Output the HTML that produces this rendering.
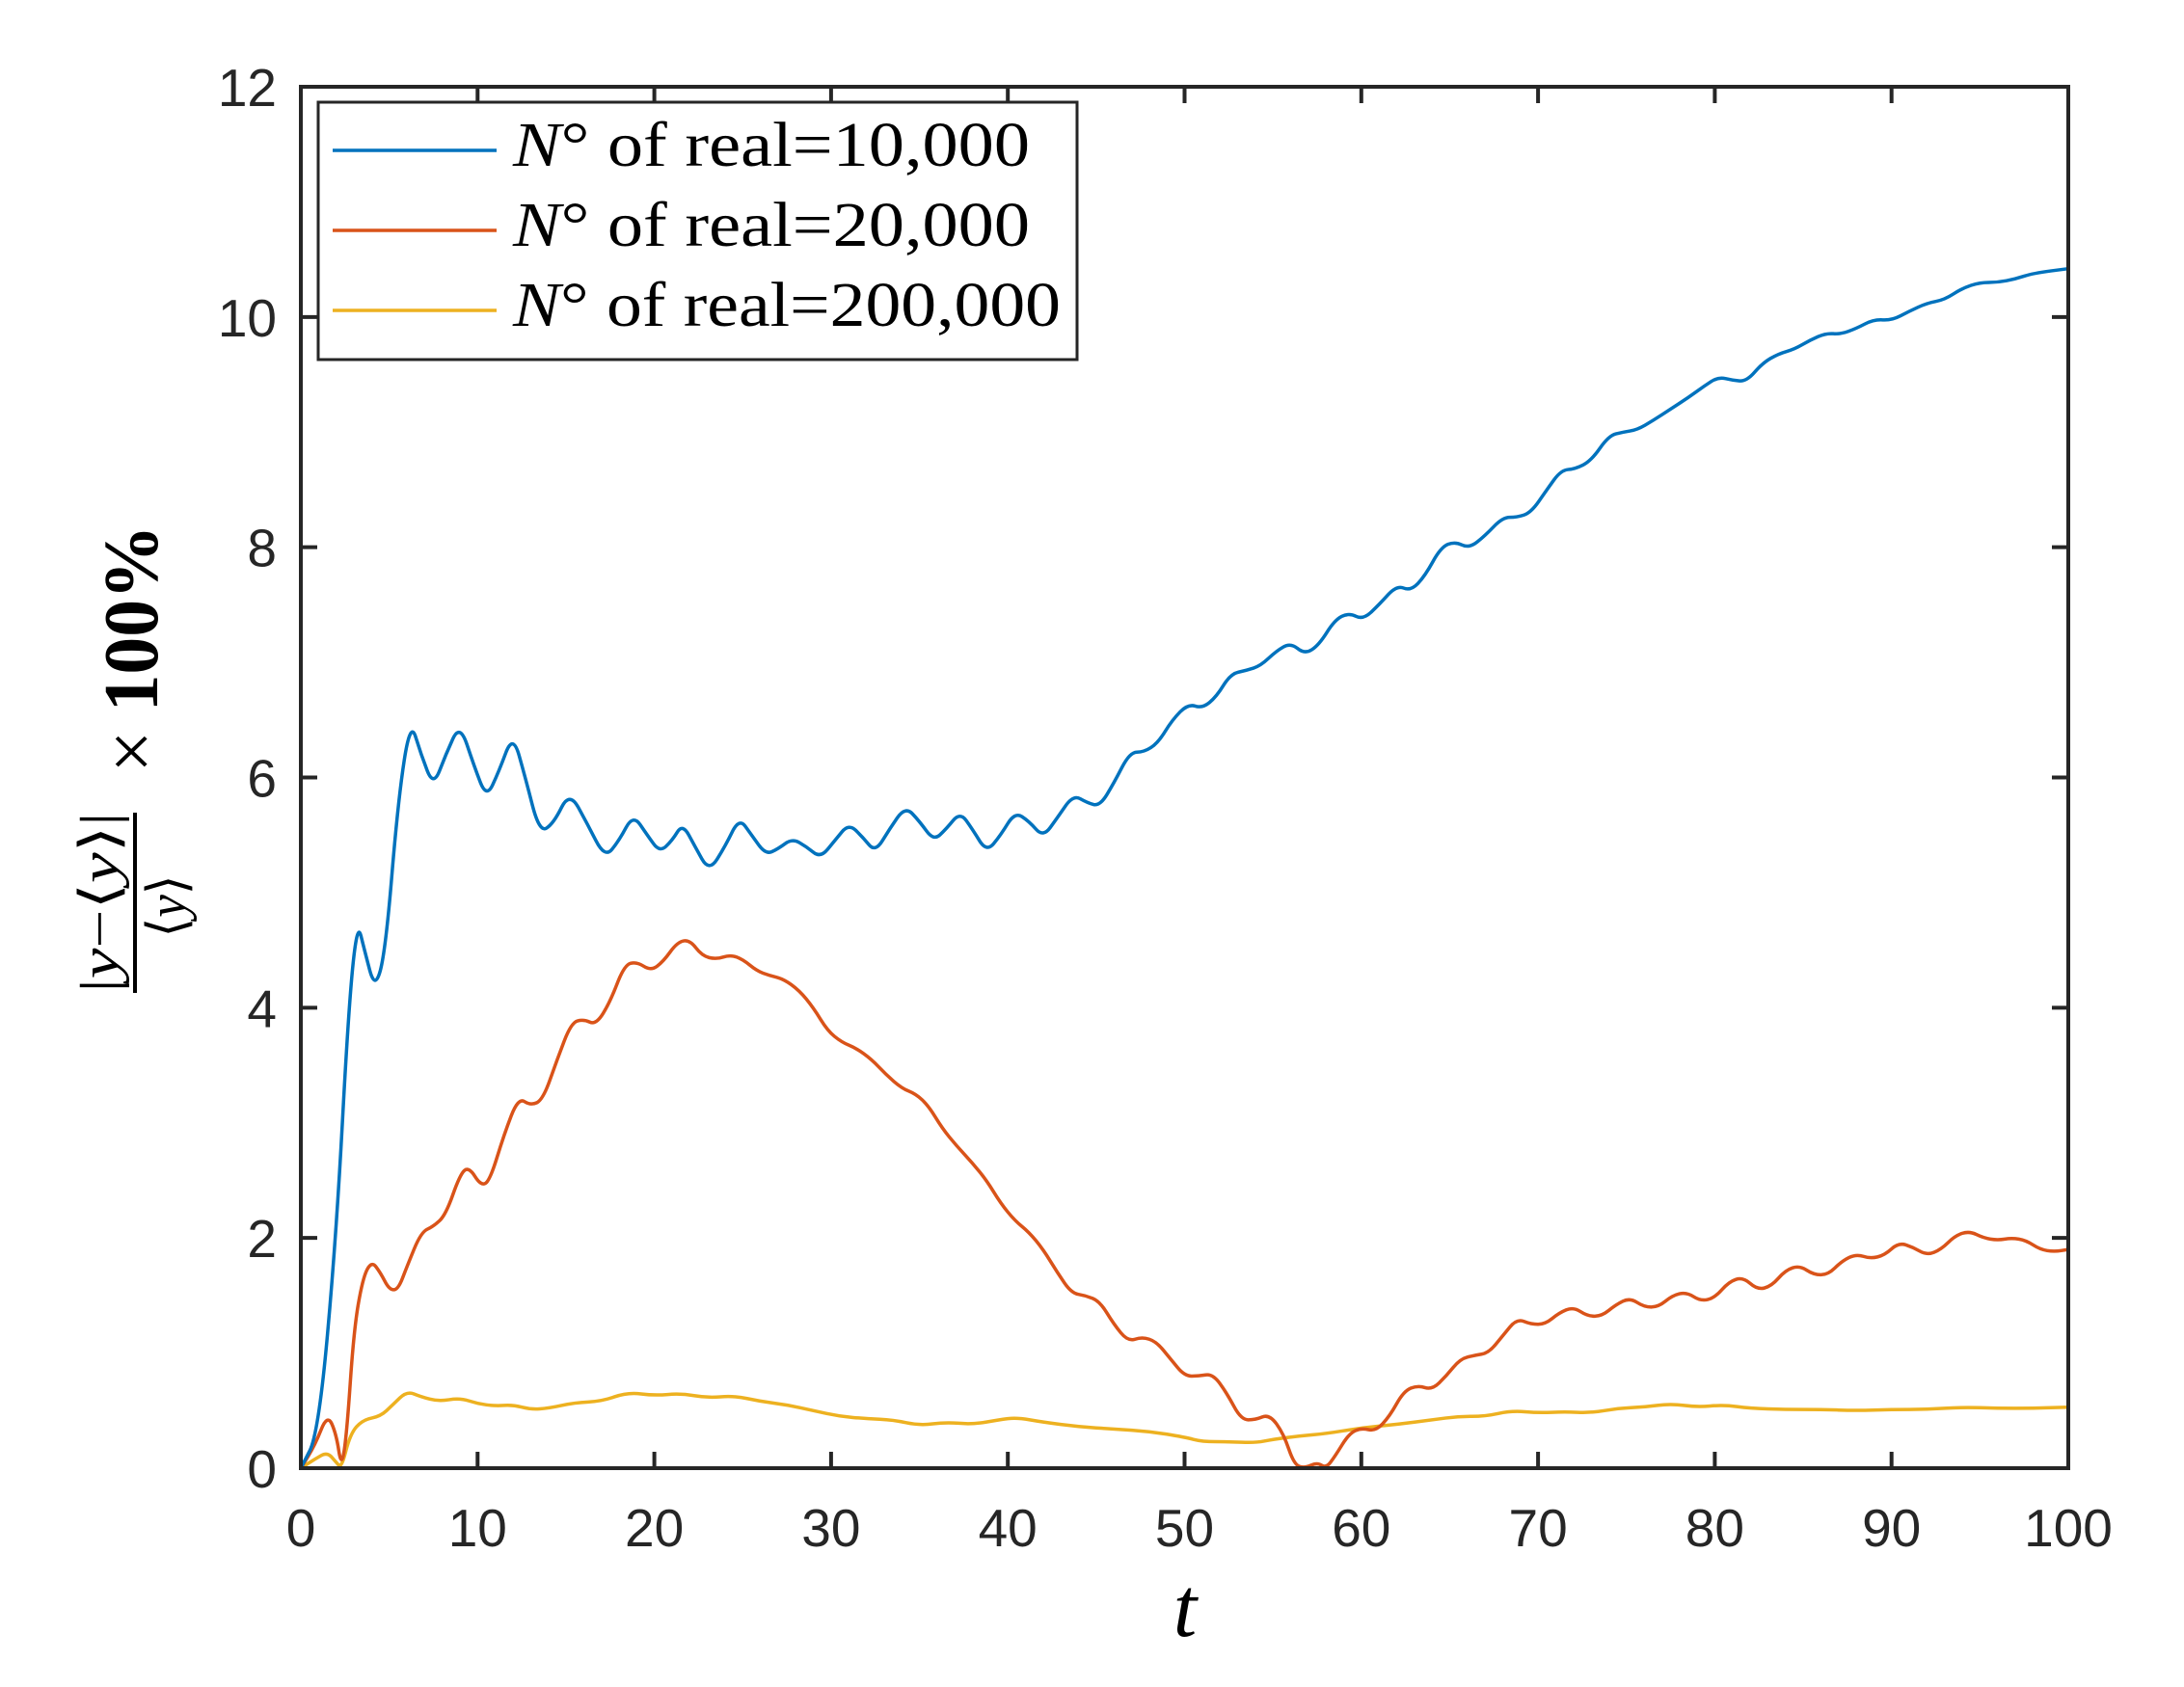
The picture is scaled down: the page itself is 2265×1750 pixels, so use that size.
<!DOCTYPE html>
<html><head><meta charset="utf-8"><style>
html,body{margin:0;padding:0;background:#fff;}
svg{display:block;}
</style></head><body>
<svg id="s" width="2265" height="1750" xmlns="http://www.w3.org/2000/svg">
<rect width="2265" height="1750" fill="#fff"/>
<g id="plot"></g>
<g id="axes" stroke="#262626" stroke-width="4" fill="none"></g>
<g id="labels" font-family="Liberation Sans, sans-serif" font-size="55" fill="#262626"></g>
<text x="1229" y="1697" font-family="Liberation Serif, serif" font-style="italic" font-size="88" text-anchor="middle" fill="#000">t</text>
<g transform="rotate(-90)" font-family="Liberation Serif, serif" fill="#000">
  <text x="-673" y="163" font-size="80" text-anchor="middle" textLength="257" lengthAdjust="spacingAndGlyphs"><tspan font-weight="normal">× </tspan><tspan font-weight="bold">100%</tspan></text>
  <line x1="-1030" y1="140" x2="-843" y2="140" stroke="#000" stroke-width="4"/>
  <text x="-936" y="122" font-size="56" text-anchor="middle" textLength="187" lengthAdjust="spacingAndGlyphs">|<tspan font-style="italic">y</tspan>−⟨<tspan font-style="italic">y</tspan>⟩|</text>
  <text x="-940" y="192" font-size="56" text-anchor="middle" textLength="65" lengthAdjust="spacingAndGlyphs">⟨<tspan font-style="italic">y</tspan>⟩</text>
</g>
<g id="legend">
  <rect x="330" y="106" width="787" height="267" fill="#fff" stroke="#262626" stroke-width="3"/>
  <line x1="345" y1="156" x2="515" y2="156" stroke="#0072BD" stroke-width="3.5"/>
  <line x1="345" y1="239" x2="515" y2="239" stroke="#D95319" stroke-width="3.5"/>
  <line x1="345" y1="322" x2="515" y2="322" stroke="#EDB120" stroke-width="3.5"/>
  <g font-family="Liberation Serif, serif" font-size="66" fill="#000">
    <text x="532" y="172" textLength="536" lengthAdjust="spacingAndGlyphs"><tspan font-style="italic">N</tspan>° of real=10,000</text>
    <text x="532" y="255" textLength="536" lengthAdjust="spacingAndGlyphs"><tspan font-style="italic">N</tspan>° of real=20,000</text>
    <text x="532" y="338" textLength="568" lengthAdjust="spacingAndGlyphs"><tspan font-style="italic">N</tspan>° of real=200,000</text>
  </g>
</g>
</svg>
<script>
var L=312,R=2145,T=90,B=1523;
function X(t){return L+(R-L)*t/100;}
function Y(v){return B-(B-T)*v/12;}
var blue=[[0,0],[1,0.3],[2,2],[2.7,4],[3.2,4.75],[3.6,4.5],[4.2,4.15],[4.8,4.5],[5.5,5.8],[6.2,6.5],[6.8,6.2],[7.5,5.92],[8.2,6.2],[9,6.47],[9.8,6.1],[10.5,5.82],[11.2,6.05],[12,6.38],[12.7,6.0],[13.5,5.52],[14.3,5.6],[15.2,5.88],[16.2,5.6],[17.2,5.3],[18,5.45],[18.8,5.68],[19.6,5.5],[20.3,5.35],[21,5.45],[21.6,5.6],[22.3,5.4],[23.1,5.18],[24,5.4],[24.8,5.65],[25.5,5.5],[26.3,5.33],[27,5.38],[27.8,5.47],[28.6,5.4],[29.4,5.3],[30.2,5.45],[31,5.6],[31.8,5.48],[32.5,5.35],[33.3,5.55],[34.2,5.75],[35,5.62],[35.8,5.45],[36.5,5.55],[37.3,5.7],[38,5.55],[38.8,5.35],[39.6,5.5],[40.4,5.7],[41.2,5.62],[42,5.48],[42.8,5.65],[43.7,5.85],[44.5,5.78],[45.2,5.75],[46,5.95],[46.9,6.22],[47.7,6.22],[48.5,6.3],[49.3,6.5],[50.2,6.64],[51,6.6],[51.8,6.7],[52.6,6.9],[53.5,6.93],[54.3,6.97],[55.2,7.1],[56,7.17],[56.8,7.07],[57.6,7.15],[58.5,7.37],[59.3,7.43],[60.1,7.37],[61,7.5],[62,7.67],[62.8,7.62],[63.6,7.75],[64.5,8.0],[65.3,8.05],[66.1,7.99],[67,8.1],[68,8.26],[68.8,8.26],[69.6,8.3],[70.5,8.5],[71.3,8.67],[72.1,8.68],[73,8.75],[74,8.97],[74.8,9.0],[75.6,9.02],[76.5,9.1],[77.5,9.2],[78.5,9.3],[79.4,9.4],[80.2,9.48],[81,9.45],[81.8,9.44],[82.7,9.6],[83.6,9.68],[84.5,9.72],[85.4,9.8],[86.3,9.86],[87.1,9.85],[88,9.9],[89,9.98],[90,9.97],[91,10.05],[92,10.12],[93,10.15],[94,10.25],[95,10.3],[96,10.3],[97,10.33],[98,10.38],[100,10.42]];
var red=[[0,0],[0.8,0.2],[1.5,0.47],[2,0.3],[2.3,0],[2.6,0.3],[3,1.2],[3.5,1.65],[4,1.8],[4.5,1.7],[5,1.55],[5.5,1.55],[6,1.75],[6.8,2.05],[7.5,2.1],[8.2,2.2],[9,2.55],[9.5,2.62],[10.2,2.45],[10.7,2.5],[11.5,2.9],[12.3,3.22],[13,3.15],[13.7,3.2],[14.5,3.55],[15.3,3.87],[16,3.9],[16.7,3.85],[17.5,4.05],[18.3,4.37],[19,4.4],[19.8,4.32],[20.5,4.4],[21.3,4.57],[22,4.59],[22.7,4.45],[23.5,4.42],[24.3,4.46],[25,4.42],[25.8,4.32],[26.5,4.28],[27.3,4.25],[28.2,4.15],[29,4.0],[29.8,3.8],[30.6,3.7],[31.4,3.65],[32.3,3.55],[33.1,3.42],[34,3.3],[34.8,3.25],[35.5,3.15],[36.3,2.95],[37.1,2.8],[38,2.65],[38.8,2.5],[39.6,2.3],[40.4,2.15],[41.2,2.05],[42,1.9],[42.8,1.7],[43.6,1.52],[44.4,1.5],[45.2,1.45],[46,1.25],[46.8,1.1],[47.6,1.14],[48.4,1.1],[49.2,0.95],[50,0.8],[50.8,0.8],[51.6,0.82],[52.4,0.65],[53.2,0.42],[54,0.42],[54.8,0.47],[55.6,0.3],[56.2,0.03],[56.8,0.0],[57.5,0.05],[58,0],[58.5,0.1],[59.3,0.3],[60,0.35],[60.8,0.32],[61.6,0.45],[62.4,0.67],[63.2,0.72],[64,0.68],[64.8,0.8],[65.6,0.95],[66.4,0.98],[67.2,1.0],[68,1.15],[68.8,1.3],[69.6,1.25],[70.4,1.25],[71.2,1.35],[72,1.4],[72.8,1.32],[73.6,1.32],[74.4,1.42],[75.2,1.48],[76,1.4],[76.8,1.4],[77.6,1.5],[78.4,1.53],[79.2,1.45],[80,1.48],[80.8,1.62],[81.6,1.66],[82.4,1.55],[83.2,1.58],[84,1.72],[84.8,1.76],[85.6,1.68],[86.4,1.68],[87.2,1.8],[88,1.86],[88.8,1.82],[89.6,1.85],[90.4,1.96],[91.2,1.92],[92,1.85],[92.8,1.9],[93.6,2.02],[94.4,2.06],[95.2,2.0],[96,1.98],[96.8,2.0],[97.6,1.98],[98.4,1.9],[99.2,1.88],[100,1.9]];
var yel=[[0,0],[0.8,0.08],[1.5,0.14],[2,0.05],[2.3,0],[2.8,0.3],[3.5,0.42],[4.5,0.45],[5.2,0.55],[6,0.67],[6.8,0.62],[7.8,0.58],[9,0.61],[10,0.56],[11,0.54],[12,0.55],[13,0.51],[14,0.52],[15.5,0.57],[17,0.58],[18.5,0.66],[20,0.63],[21.5,0.65],[23,0.61],[24.5,0.63],[26,0.58],[27.5,0.55],[29,0.5],[30.5,0.45],[32,0.43],[33.5,0.42],[35,0.37],[36.5,0.4],[38,0.38],[39.5,0.42],[40.5,0.44],[42,0.4],[44,0.36],[46,0.34],[48,0.32],[50,0.27],[51,0.23],[52.5,0.23],[54,0.22],[55,0.25],[56.5,0.28],[58,0.3],[60,0.35],[62,0.38],[64,0.42],[65.5,0.45],[67,0.45],[68.5,0.5],[70,0.48],[71.5,0.49],[73,0.48],[74.5,0.52],[76,0.53],[77.5,0.56],[79,0.53],[80.5,0.55],[82,0.52],[84,0.51],[86,0.51],[88,0.5],[90,0.51],[92,0.51],[94,0.53],[96,0.52],[98,0.52],[100,0.53]];
var NS="http://www.w3.org/2000/svg";
function el(n,a,p){var e=document.createElementNS(NS,n);for(var k in a)e.setAttribute(k,a[k]);if(p)p.appendChild(e);return e;}
function path(d){var s="";for(var i=0;i<d.length;i++){var x=X(d[i][0]),y=Y(d[i][1]);if(i==0)s+="M"+x+","+y;else{var p=d[i-1];var px=X(p[0]),py=Y(p[1]);var mx=(px+x)/2,my=(py+y)/2;s+=" Q"+px+","+py+" "+mx+","+my;}}s+=" L"+X(d[d.length-1][0])+","+Y(d[d.length-1][1]);return s;}
var plot=document.getElementById("plot");
[[yel,"#EDB120"],[red,"#D95319"],[blue,"#0072BD"]].forEach(function(s){el("path",{d:path(s[0]),stroke:s[1],"stroke-width":3.5,fill:"none","stroke-linejoin":"round"},plot);});
var ax=document.getElementById("axes"),lb=document.getElementById("labels");
el("rect",{x:L,y:T,width:R-L,height:B-T},ax);
for(var t=0;t<=100;t+=10){var x=X(t);el("line",{x1:x,y1:B,x2:x,y2:B-17},ax);el("line",{x1:x,y1:T,x2:x,y2:T+17},ax);var tx=el("text",{x:x,y:1604,"text-anchor":"middle"},lb);tx.textContent=t;}
for(var v=0;v<=12;v+=2){var y=Y(v);el("line",{x1:L,y1:y,x2:L+17,y2:y},ax);el("line",{x1:R,y1:y,x2:R-17,y2:y},ax);var ty=el("text",{x:287,y:y+20,"text-anchor":"end"},lb);ty.textContent=v;}
</script>
</body></html>
